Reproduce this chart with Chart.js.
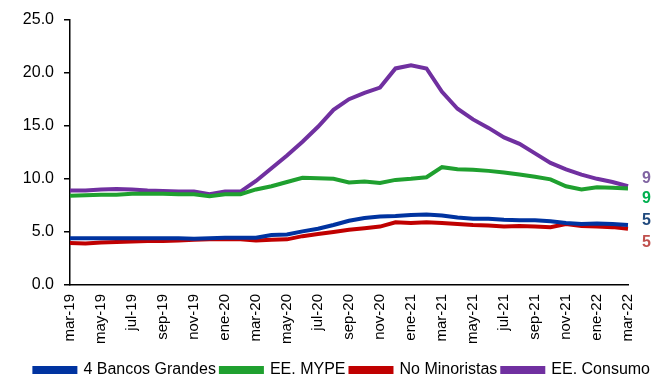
<!DOCTYPE html>
<html>
<head>
<meta charset="utf-8">
<script src="https://cdn.jsdelivr.net/npm/chart.js@4.4.1/dist/chart.umd.min.js"></script>
<style>
    html, body { margin: 0; padding: 0; background: #fff; }
    #wrap { width: 655px; height: 377px; position: relative; }
</style>
</head>
<body>
<div id="wrap"><canvas id="chart"></canvas></div>
<script>
// Months shown on the x axis (every second one gets a label)
const months = ['mar-19','abr-19','may-19','jun-19','jul-19','ago-19','sep-19','oct-19','nov-19','dic-19',
    'ene-20','feb-20','mar-20','abr-20','may-20','jun-20','jul-20','ago-20','sep-20','oct-20','nov-20','dic-20',
    'ene-21','feb-21','mar-21','abr-21','may-21','jun-21','jul-21','ago-21','sep-21','oct-21','nov-21','dic-21',
    'ene-22','feb-22','mar-22'];

const bancosGrandes = [4.4,4.4,4.4,4.4,4.4,4.4,4.4,4.4,4.35,4.4,4.45,4.45,4.45,4.7,4.75,5.05,5.3,5.65,6.05,6.3,
    6.45,6.5,6.6,6.65,6.55,6.35,6.25,6.25,6.15,6.1,6.1,6.0,5.85,5.75,5.8,5.75,5.65];
const mype = [8.4,8.45,8.5,8.5,8.6,8.6,8.6,8.55,8.55,8.35,8.55,8.55,9.0,9.3,9.7,10.1,10.05,10.0,9.65,9.75,
    9.6,9.9,10.0,10.15,11.1,10.9,10.85,10.75,10.6,10.4,10.2,9.95,9.3,9.0,9.2,9.15,9.1];
const noMinoristas = [3.95,3.9,4.0,4.05,4.1,4.15,4.15,4.2,4.25,4.3,4.3,4.3,4.2,4.25,4.3,4.6,4.8,5.0,5.2,5.35,
    5.5,5.9,5.85,5.9,5.85,5.75,5.65,5.6,5.5,5.55,5.5,5.45,5.75,5.55,5.5,5.45,5.3];
const consumo = [8.9,8.9,9.0,9.05,9.0,8.9,8.85,8.8,8.8,8.55,8.8,8.8,9.8,11.0,12.2,13.5,14.9,16.5,17.5,18.1,
    18.6,20.4,20.7,20.4,18.2,16.6,15.6,14.8,13.9,13.3,12.4,11.5,10.9,10.4,10.0,9.7,9.3];

const seriesNames = ['4 Bancos Grandes', 'EE. MYPE', 'No Minoristas', 'EE. Consumo'];
const endLabels = ['5', '9', '5', '9'];

const lineColors = ['#0033a0', '#1fa02f', '#c00000', '#7030a0'];
const labelColors = ['#1f497d', '#00b050', '#c0504d', '#8064a2'];
// vertical nudge of each end label so they do not overlap
const labelOffsets = [-4, 10, 14, -8];

const FONT = "'Liberation Sans', Arial, sans-serif";

const endLabelPlugin = {
    id: 'endLabels',
    afterDatasetsDraw(chart) {
        const ctx = chart.ctx;
        const yScale = chart.scales.y;
        ctx.save();
        ctx.font = 'bold 16px ' + FONT;
        ctx.textAlign = 'left';
        ctx.textBaseline = 'middle';
        chart.data.datasets.forEach((ds, i) => {
            const last = ds.data[ds.data.length - 1];
            const y = yScale.getPixelForValue(last) + labelOffsets[i];
            ctx.fillStyle = labelColors[i];
            ctx.fillText(endLabels[i], chart.chartArea.right + 14, y);
        });
        ctx.restore();
    }
};

const allSeries = [bancosGrandes, mype, noMinoristas, consumo];

const ctx = document.getElementById('chart').getContext('2d');
new Chart(ctx, {
    type: 'line',
    data: {
        labels: months,
        datasets: allSeries.map((values, i) => ({
            label: seriesNames[i],
            data: values,
            borderColor: lineColors[i],
            backgroundColor: lineColors[i],
            borderWidth: 4,
            pointRadius: 0,
            tension: 0,
            fill: false
        }))
    },
    options: {
        responsive: true,
        maintainAspectRatio: false,
        animation: false,
        layout: {
            padding: { left: 0, right: 0, top: 17, bottom: -11 }
        },
        plugins: {
            legend: {
                position: 'bottom',
                align: 'end',
                labels: {
                    color: '#000',
                    font: { family: FONT, size: 16 },
                    boxWidth: 41,
                    boxHeight: 4,
                    padding: 5
                }
            },
            tooltip: { enabled: false }
        },
        scales: {
            x: {
                offset: false,
                afterFit: function(scale) { scale.height = scale.height + 4; },
                grid: { display: false, drawTicks: false },
                border: { display: true, color: '#000', width: 1.5 },
                ticks: {
                    autoSkip: false,
                    maxRotation: 90,
                    minRotation: 90,
                    padding: 9,
                    color: '#000',
                    font: { family: FONT, size: 15 },
                    callback: function(value, index) {
                        return index % 2 === 0 ? months[index] : null;
                    }
                }
            },
            y: {
                min: 0,
                max: 25,
                afterFit: function(scale) { scale.width = 70; },
                grid: {
                    drawOnChartArea: false,
                    drawTicks: true,
                    tickLength: 6,
                    color: '#000',
                    lineWidth: 1.5
                },
                border: { display: true, color: '#000', width: 1.5 },
                ticks: {
                    stepSize: 5,
                    padding: 10,
                    color: '#000',
                    font: { family: FONT, size: 16 },
                    callback: function(value) {
                        return value.toFixed(1);
                    }
                }
            },
            // empty right-hand box that leaves room for the end labels
            yRight: {
                position: 'right',
                min: 0,
                max: 25,
                afterFit: function(scale) { scale.width = 23; },
                grid: { display: false, drawTicks: false },
                border: { display: false },
                ticks: { display: false }
            }
        }
    },
    plugins: [endLabelPlugin]
});
</script>
</body>
</html>
